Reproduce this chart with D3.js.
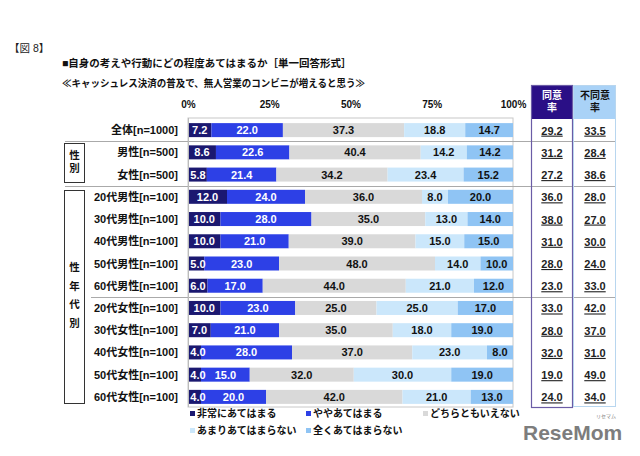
<!DOCTYPE html>
<html><head><meta charset="utf-8">
<script src="https://cdn.jsdelivr.net/npm/d3@7"></script>
<style>
html,body{margin:0;padding:0;background:#fff;}
text{font-family:"Liberation Sans","Noto Sans CJK JP",sans-serif;}
</style></head>
<body><svg id="c" width="640" height="456"></svg>
<script>
const categories = ["全体[n=1000]","男性[n=500]","女性[n=500]","20代男性[n=100]","30代男性[n=100]","40代男性[n=100]","50代男性[n=100]","60代男性[n=100]","20代女性[n=100]","30代女性[n=100]","40代女性[n=100]","50代女性[n=100]","60代女性[n=100]"];
const seriesNames = ["非常にあてはまる","ややあてはまる","どちらともいえない","あまりあてはまらない","全くあてはまらない"];
const veryMuch   = [7.2, 8.6, 5.8, 12.0, 10.0, 10.0, 5.0, 6.0, 10.0, 7.0, 4.0, 4.0, 4.0];
const somewhat   = [22.0, 22.6, 21.4, 24.0, 28.0, 21.0, 23.0, 17.0, 23.0, 21.0, 28.0, 15.0, 20.0];
const neutral    = [37.3, 40.4, 34.2, 36.0, 35.0, 39.0, 48.0, 44.0, 25.0, 35.0, 37.0, 32.0, 42.0];
const notMuch    = [18.8, 14.2, 23.4, 8.0, 13.0, 15.0, 14.0, 21.0, 25.0, 18.0, 23.0, 30.0, 21.0];
const notAtAll   = [14.7, 14.2, 15.2, 20.0, 14.0, 15.0, 10.0, 12.0, 17.0, 19.0, 8.0, 19.0, 13.0];
const agreeRate    = [29.2, 31.2, 27.2, 36.0, 38.0, 31.0, 28.0, 23.0, 33.0, 28.0, 32.0, 19.0, 24.0];
const disagreeRate = [33.5, 28.4, 38.6, 28.0, 27.0, 30.0, 24.0, 33.0, 42.0, 37.0, 31.0, 49.0, 34.0];
const tickValues = [0, 25, 50, 75, 100];
const colors = ["#1b1870", "#2d40e6", "#d9d9d9", "#cbe7fb", "#8fc4f4"];
const textColors = ["#fff", "#fff", "#111", "#111", "#111"];

const svg = d3.select("#c");
const x = d3.scaleLinear().domain([0, 100]).range([188, 513]);
const y = d3.scaleBand().domain(categories).range([119, 408]).paddingInner(0.37).paddingOuter(0.185);

// titles
svg.append("text").attr("x", 9).attr("y", 52).attr("font-size", 10.5).attr("fill", "#222").text("【図 8】");
svg.append("text").attr("x", 62).attr("y", 67).attr("font-size", 10.5).attr("font-weight", "bold").attr("fill", "#111")
  .text("■自身の考えや行動にどの程度あてはまるか［単一回答形式］");
svg.append("text").attr("x", 62).attr("y", 87).attr("font-size", 9.8).attr("font-weight", "bold").attr("fill", "#111")
  .attr("textLength", 303).attr("lengthAdjust", "spacingAndGlyphs")
  .text("≪キャッシュレス決済の普及で、無人営業のコンビニが増えると思う≫");

// axis ticks labels
const ax = svg.append("g").attr("transform", "translate(0,111)")
  .call(d3.axisTop(x).tickValues(tickValues).tickSize(0).tickFormat(d => d + "%"));
ax.select(".domain").remove();
ax.selectAll("text").attr("font-size", 10).attr("font-weight", "bold").attr("fill", "#111")
  .attr("font-family", "Liberation Sans, sans-serif");

// stacked data
const series = [veryMuch, somewhat, neutral, notMuch, notAtAll];
const rows = categories.map((c, i) => {
  const o = { cat: c };
  seriesNames.forEach((s, k) => o[s] = series[k][i]);
  return o;
});
const stacked = d3.stack().keys(seriesNames)(rows);

// plot frame
svg.append("rect").attr("x", x(0)).attr("y", 118).attr("width", x(100) - x(0)).attr("height", 289)
  .attr("fill", "none").attr("stroke", "#c8c8c8").attr("stroke-width", 1);

// separators
const sepY = (a, b) => (y(categories[a]) + y.bandwidth() + y(categories[b])) / 2;
[[0, 1, 65], [2, 3, 65], [7, 8, 91]].forEach(([a, b, x0]) => {
  svg.append("line").attr("x1", x0).attr("x2", 616).attr("y1", Math.round(sepY(a, b)) + 0.5).attr("y2", Math.round(sepY(a, b)) + 0.5)
    .attr("stroke", "#aaa").attr("stroke-width", 1);
});

// bars (all rects first, then labels)
stacked.forEach((s, k) => {
  svg.append("g").selectAll("rect").data(s).join("rect")
    .attr("x", d => x(d[0])).attr("width", d => x(d[1]) - x(d[0]))
    .attr("y", d => y(d.data.cat)).attr("height", y.bandwidth())
    .attr("fill", colors[k]);
});
// left axis line
svg.append("line").attr("x1", x(0) + 0.5).attr("x2", x(0) + 0.5).attr("y1", 118).attr("y2", 407).attr("stroke", "#bbb");
stacked.forEach((s, k) => {
  svg.append("g").selectAll("text").data(s).join("text")
    .attr("x", d => Math.max((x(d[0]) + x(d[1])) / 2, x(d[0]) + 10))
    .attr("y", d => y(d.data.cat) + y.bandwidth() / 2 + 4)
    .attr("text-anchor", "middle").attr("font-size", 11).attr("font-weight", "bold")
    .attr("fill", textColors[k]).text(d => d3.format(".1f")(d[1] - d[0]));
});

// row labels
svg.append("g").selectAll("text").data(categories).join("text")
  .attr("x", 178).attr("y", d => y(d) + y.bandwidth() / 2 + 4)
  .attr("text-anchor", "end").attr("font-size", 11).attr("font-weight", "bold").attr("fill", "#111").text(d => d);

// group boxes
function groupBox(y0, y1, chars, cy, gap) {
  svg.append("rect").attr("x", 64.5).attr("y", y0 + 0.5).attr("width", 20).attr("height", y1 - y0)
    .attr("fill", "#fff").attr("stroke", "#333").attr("stroke-width", 1);
  chars.forEach((ch, i) => {
    svg.append("text").attr("x", 74.5).attr("y", cy + (i - (chars.length - 1) / 2) * gap + 4)
      .attr("text-anchor", "middle").attr("font-size", 10.5).attr("font-weight", "bold").attr("fill", "#111").text(ch);
  });
}
groupBox(143, 182, ["性", "別"], 161, 13);
groupBox(190, 403, ["性", "年", "代", "別"], 295, 18.5);

// right columns
svg.append("rect").attr("x", 531).attr("y", 85).attr("width", 42).attr("height", 34).attr("fill", "#2a0f86");
svg.append("rect").attr("x", 573).attr("y", 85).attr("width", 43).attr("height", 34).attr("fill", "#a9d2f7");
svg.append("rect").attr("x", 531.5).attr("y", 85.5).attr("width", 41).attr("height", 322).attr("fill", "none").attr("stroke", "#6b5ca6").attr("stroke-width", 1.2);
svg.append("rect").attr("x", 573.5).attr("y", 85.5).attr("width", 42).attr("height", 321).attr("fill", "none").attr("stroke", "#b8d6ef").attr("stroke-width", 1);
[["同意", "率", 552, "#fff"], ["不同意", "率", 595, "#111"]].forEach(([a, b, cx, col]) => {
  svg.append("text").attr("x", cx).attr("y", 99).attr("text-anchor", "middle").attr("font-size", 10).attr("font-weight", "bold").attr("fill", col).text(a);
  svg.append("text").attr("x", cx).attr("y", 111).attr("text-anchor", "middle").attr("font-size", 10).attr("font-weight", "bold").attr("fill", col).text(b);
});
[[agreeRate, 552], [disagreeRate, 595]].forEach(([arr, cx]) => {
  svg.append("g").selectAll("text").data(arr).join("text")
    .attr("x", cx).attr("y", (d, i) => y(categories[i]) + y.bandwidth() / 2 + 4.5)
    .attr("text-anchor", "middle").attr("font-size", 11).attr("font-weight", "bold").attr("fill", "#222")
    .attr("text-decoration", "underline").text(d => d3.format(".1f")(d));
});

// legend
const legendPos = [[190, 417], [306, 417], [423, 417], [190, 434], [306, 434]];
seriesNames.forEach((s, k) => {
  const [lx, ly] = legendPos[k];
  svg.append("rect").attr("x", lx).attr("y", ly - 6).attr("width", 5).attr("height", 5).attr("fill", colors[k]);
  svg.append("text").attr("x", lx + 7).attr("y", ly).attr("font-size", 10).attr("font-weight", "bold").attr("fill", "#111").text(s);
});

// watermark
svg.append("text").attr("x", 523).attr("y", 440).attr("font-size", 21).attr("font-weight", "bold").attr("fill", "#7d7d7d")
  .attr("font-family", "Liberation Sans, sans-serif").text("ReseMom");
svg.append("text").attr("x", 606).attr("y", 418).attr("font-size", 5).attr("fill", "#7d7d7d").attr("text-anchor", "middle").text("リセマム");
</script></body></html>
